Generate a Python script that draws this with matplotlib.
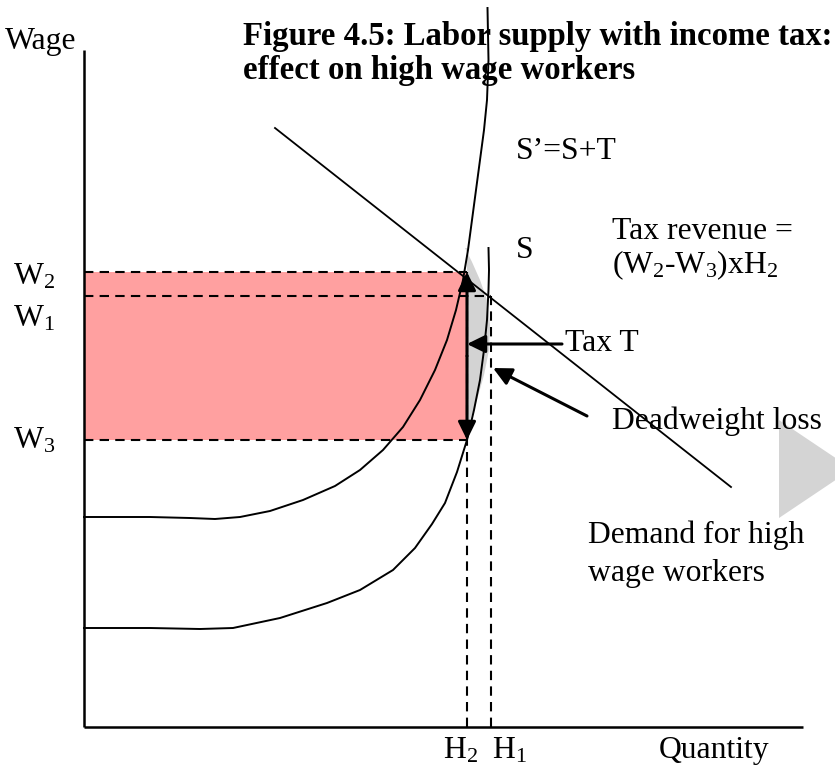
import matplotlib
matplotlib.use("Agg")
import matplotlib.pyplot as plt
from matplotlib.patches import Polygon, Rectangle

plt.rcParams['font.family'] = ['Liberation Serif', 'DejaVu Serif']
plt.rcParams['mathtext.fontset'] = 'custom'
plt.rcParams['mathtext.rm'] = 'Liberation Serif'
plt.rcParams['mathtext.it'] = 'Liberation Serif:italic'

# ---- data (quantity, wage) in diagram units ----
s_tax_q = [0, 66, 106, 131, 156, 186, 219, 251, 276, 299, 319, 336, 351, 363, 372, 379,
           384, 388, 392, 396, 400, 403, 404.5, 403.5]
s_tax_w = [210, 210, 209, 208, 210, 216, 227, 241, 257, 277, 300, 327, 357, 387, 417, 447,
           477, 507, 537, 567, 597, 627, 667, 719]

s_q = [0, 66, 116, 149, 196, 243, 276, 309, 331, 348, 361, 373, 383, 390, 396, 400, 403,
       404.5, 405, 404.5]
s_w = [99, 99, 98, 99, 109, 124, 137, 157, 179, 203, 224, 255, 287, 317, 347, 377, 407,
       437, 457, 479]

demand_q = [191, 647]
demand_w = [599, 240]

W2, W1, W3 = 455, 431, 287
H2, H1 = 383, 407

dwl_q = [381, 388, 396, 403, 406, 405, 400, 393, 386, 383, 383]
dwl_w = [479, 465, 447, 427, 402, 377, 352, 327, 307, 299, 479]

tri_q = [695, 695, 768]
tri_w = [307, 209, 258]

x_axis_end = 719
y_axis_end = 677

fs = 22.8
fs_title = 23.6

fig = plt.figure(figsize=(8.35, 7.66), dpi=100)
ax = fig.add_axes([0, 0, 1, 1])
ax.set_xlim(-84, 751)
ax.set_ylim(-39, 727)
ax.axis('off')

# tax revenue rectangle
ax.add_patch(Rectangle((0, W3), H2, W2 - W3, facecolor='#ffa0a0', edgecolor='none', zorder=1))
# deadweight loss
ax.add_patch(Polygon(list(zip(dwl_q, dwl_w)), closed=True, facecolor='#d3d3d3', edgecolor='none', zorder=1))
# decorative grey triangle
ax.add_patch(Polygon(list(zip(tri_q, tri_w)), closed=True, facecolor='#d4d4d4', edgecolor='none', zorder=1))

# axes
ax.plot([0, 0], [0, y_axis_end], color='k', lw=1.8, zorder=3, solid_capstyle='butt')
ax.plot([0, x_axis_end], [0, 0], color='k', lw=1.8, zorder=3, solid_capstyle='butt')

# dashed guides
dash = dict(color='k', lw=1.5, ls=(0, (4.5, 3)), zorder=2)
ax.plot([0, H2], [W2, W2], **dash)
ax.plot([0, H1], [W1, W1], **dash)
ax.plot([0, H2], [W3, W3], **dash)
ax.plot([H2, H2], [0, W2], **dash)
ax.plot([H1, H1], [0, W1], **dash)

# curves
ax.plot(s_tax_q, s_tax_w, color='k', lw=1.4, zorder=4, solid_joinstyle='round')
ax.plot(s_q, s_w, color='k', lw=1.4, zorder=4, solid_joinstyle='round')
ax.plot(demand_q, demand_w, color='k', lw=1.3, zorder=4)

# arrows
ap = dict(arrowstyle='-|>,head_length=0.55,head_width=0.27', color='k', lw=2.2,
          mutation_scale=20, shrinkA=0, shrinkB=0)
ax.annotate('', xy=(H2, W2), xytext=(H2, (W2 + W3) / 2), arrowprops=ap, zorder=5)
ax.annotate('', xy=(H2, W3), xytext=(H2, (W2 + W3) / 2), arrowprops=ap, zorder=5)
ax.annotate('', xy=(H2, 383), xytext=(478, 383), arrowprops=ap, zorder=5)
ax.annotate('', xy=(409, 359), xytext=(503, 311), arrowprops=ap, zorder=5)

# texts
d = 3.5
ax.text(-79, 689 - d, 'Wage', fontsize=fs, ha='left', va='center')
ax.text(159, 695 - 4, 'Figure 4.5: Labor supply with income tax:', fontsize=fs_title,
        fontweight='bold', ha='left', va='center')
ax.text(159, 660 - 4, 'effect on high wage workers', fontsize=fs_title, fontweight='bold',
        ha='left', va='center')
ax.text(432, 579 - d, 'S\u2019=S+T', fontsize=fs, ha='left', va='center')
ax.text(432, 480 - d, 'S', fontsize=fs, ha='left', va='center')
ax.text(528, 499 - d, 'Tax revenue =', fontsize=fs, ha='left', va='center')
ax.text(528, 465 - d, '(W$_2$-W$_3$)xH$_2$', fontsize=fs, ha='left', va='center')
ax.text(-71, 454 - d, 'W$_2$', fontsize=fs, ha='left', va='center')
ax.text(-71, 412 - d, 'W$_1$', fontsize=fs, ha='left', va='center')
ax.text(-71, 290 - d, 'W$_3$', fontsize=fs, ha='left', va='center')
ax.text(481, 387 - d, 'Tax T', fontsize=fs, ha='left', va='center')
ax.text(528, 309 - d, 'Deadweight loss', fontsize=fs, ha='left', va='center')
ax.text(504, 195 - d, 'Demand for high', fontsize=fs, ha='left', va='center')
ax.text(504, 157 - d, 'wage workers', fontsize=fs, ha='left', va='center')
ax.text(359, -20 - d, 'H$_2$', fontsize=fs, ha='left', va='center')
ax.text(408, -20 - d, 'H$_1$', fontsize=fs, ha='left', va='center')
ax.text(575, -20 - d, 'Quantity', fontsize=fs, ha='left', va='center')

fig.savefig('out.png', dpi=100)
